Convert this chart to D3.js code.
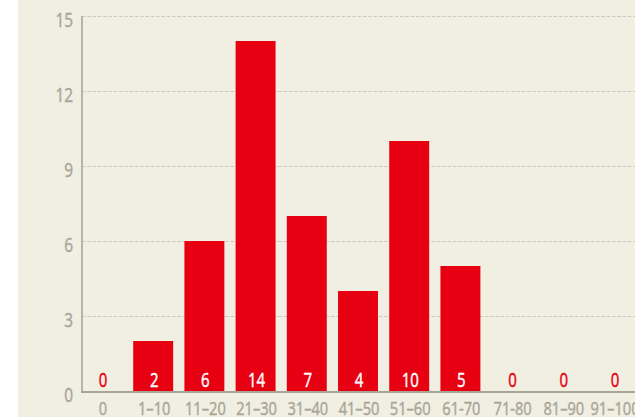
<!DOCTYPE html>
<html>
<head>
<meta charset="utf-8">
<script src="https://cdn.jsdelivr.net/npm/d3@7"></script>
<style>
  html, body { margin: 0; padding: 0; background: #ffffff; }
  svg { display: block; }
  text { font-family: "Open Sans", "Noto Sans", "DejaVu Sans", sans-serif; stroke-width: 0.45px; }
</style>
</head>
<body>
<div id="chart"></div>
<script>
// Data
var categories = ["0", "1–10", "11–20", "21–30", "31–40", "41–50", "51–60", "61-70", "71-80", "81–90", "91–100"];
var counts = [0, 2, 6, 14, 7, 4, 10, 5, 0, 0, 0];
var yTicks = [0, 3, 6, 9, 12, 15];

var width = 635, height = 417;
var red = "#e60012", grey = "#a9a698", bg = "#f1eee2";
var squeeze = 0.77; // condensed look

function place(px, py) {
    return "translate(" + px + "," + py + ") scale(" + squeeze + ",1)";
}

var svg = d3.select("#chart").append("svg")
    .attr("width", width)
    .attr("height", height);

// beige panel, white strip on the left
svg.append("rect")
    .attr("x", 18).attr("y", 0)
    .attr("width", width - 18).attr("height", height)
    .attr("fill", bg);

var x = d3.scaleBand()
    .domain(categories)
    .range([82, 634])
    .paddingInner(0.22)
    .paddingOuter(0);

var y = d3.scaleLinear()
    .domain([0, 15])
    .range([391, 16]);

// dashed gridlines
svg.append("g")
    .selectAll("line").data(yTicks.filter(function(d) { return d > 0; }))
    .enter().append("line")
      .attr("x1", 82).attr("x2", width)
      .attr("y1", function(d) { return y(d) + 0.5; })
      .attr("y2", function(d) { return y(d) + 0.5; })
      .attr("stroke", "#cbc8bd")
      .attr("stroke-width", 1)
      .attr("stroke-dasharray", "3.5,1.8");

// y tick labels
svg.append("g")
    .selectAll("text").data(yTicks)
    .enter().append("text")
      .attr("transform", function(d) { return place(73, y(d) + 10.5); })
      .attr("text-anchor", "end")
      .attr("font-size", 20)
      .attr("fill", grey)
      .attr("stroke", grey)
      .text(function(d) { return d; });

// bars
svg.append("g")
    .selectAll("rect").data(counts)
    .enter().append("rect")
      .attr("x", function(d, i) { return x(categories[i]); })
      .attr("y", function(d) { return y(d); })
      .attr("width", x.bandwidth())
      .attr("height", function(d) { return y(0) - y(d); })
      .attr("fill", red);

// value labels inside bars
svg.append("g")
    .selectAll("text").data(counts)
    .enter().append("text")
      .attr("transform", function(d, i) { return place(x(categories[i]) + x.bandwidth() / 2 + 1, 386.5); })
      .attr("text-anchor", "middle")
      .attr("font-size", 19.5)
      .attr("fill", function(d) { return d > 0 ? "#ffffff" : red; })
      .attr("stroke", function(d) { return d > 0 ? "#ffffff" : red; })
      .text(function(d) { return d; });

// axes lines
svg.append("line")
    .attr("x1", 82).attr("x2", 82)
    .attr("y1", 16).attr("y2", 392)
    .attr("stroke", "#b8b5a8").attr("stroke-width", 2);
svg.append("line")
    .attr("x1", 81).attr("x2", width)
    .attr("y1", 392).attr("y2", 392)
    .attr("stroke", "#a9a698").attr("stroke-width", 2);

// category labels
svg.append("g")
    .selectAll("text").data(categories)
    .enter().append("text")
      .attr("transform", function(d) { return place(x(d) + x.bandwidth() / 2 + 1, 414.5); })
      .attr("text-anchor", "middle")
      .attr("font-size", 19)
      .attr("fill", grey)
      .attr("stroke", grey)
      .text(function(d) { return d; });
</script>
</body>
</html>
